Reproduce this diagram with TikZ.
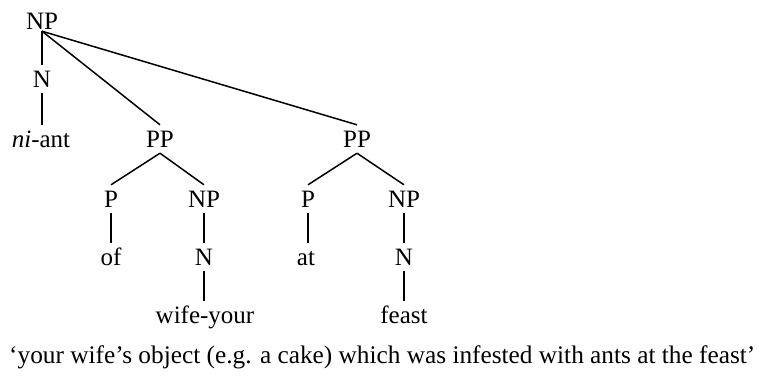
\documentclass[tikz,border=0pt]{standalone}
\usepackage{fontspec}
\setmainfont{Liberation Serif}
\begin{document}
\begin{tikzpicture}[x=1pt,y=-1pt,
  lbl/.style={anchor=base,inner xsep=0pt,inner ysep=6pt,text height=16pt,text depth=0pt,font=\fontsize{25}{30}\selectfont},
  edge/.style={line width=1.5pt,black}]
\useasboundingbox (0,0) rectangle (759,376);
\node[lbl,inner ysep=2pt] (np0) at (42,29) {NP};
\node[lbl] (n0) at (42,87) {N};
\node[lbl] (w0) at (41,147) {\textit{ni}-ant};
\node[lbl] (pp1) at (160,147) {PP};
\node[lbl] (pp2) at (357,147) {PP};
\node[lbl] (p1) at (111,207) {P};
\node[lbl] (np1) at (204,207) {NP};
\node[lbl] (p2) at (308,207) {P};
\node[lbl] (np2) at (404,207) {NP};
\node[lbl] (of) at (111,265) {of};
\node[lbl] (n1) at (204,265) {N};
\node[lbl] (at) at (306,265) {at};
\node[lbl] (n2) at (404,265) {N};
\node[lbl] (w1) at (205,323) {wife-your};
\node[lbl] (w2) at (404,323) {feast};
\node[lbl,anchor=base west,font=\fontsize{25.3}{30}\selectfont] (cap) at (9,363) {‘your wife’s object (e.g. a cake) which was infested with ants at the feast’};
\draw[edge] (np0.south) -- (n0.north);
\draw[edge] (n0.south) -- (n0.south |- w0.north);
\draw[edge] (np0.south) -- (pp1.north);
\draw[edge] (np0.south) -- (pp2.north);
\draw[edge] (pp1.south) -- (p1.north);
\draw[edge] (pp1.south) -- (np1.north);
\draw[edge] (pp2.south) -- (p2.north);
\draw[edge] (pp2.south) -- (np2.north);
\draw[edge] (p1.south) -- (of.north);
\draw[edge] (np1.south) -- (n1.north);
\draw[edge] (n1.south) -- (n1.south |- w1.north);
\draw[edge] (p2.south) -- (p2.south |- at.north);
\draw[edge] (np2.south) -- (n2.north);
\draw[edge] (n2.south) -- (w2.north);
\end{tikzpicture}
\end{document}
